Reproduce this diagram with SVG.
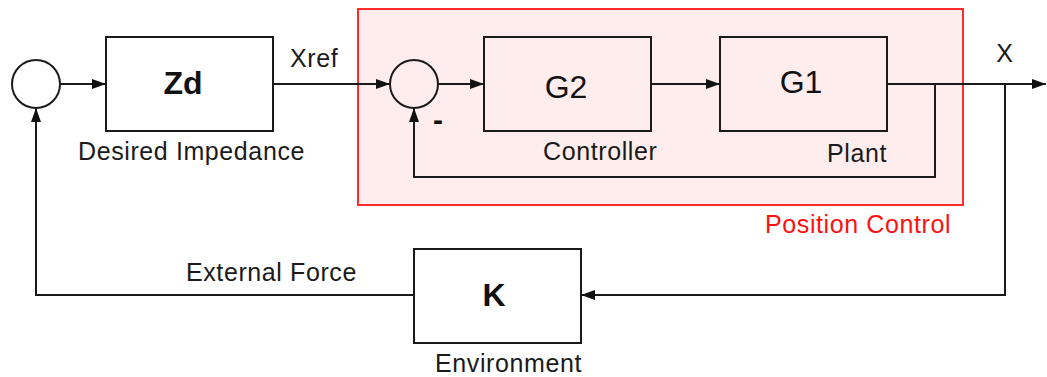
<svg xmlns="http://www.w3.org/2000/svg" width="1047" height="377" viewBox="0 0 1047 377">
<style>
.ln{fill:none;stroke:#1a1a1a;stroke-width:2}
.box{fill:none;stroke:#1a1a1a;stroke-width:2}
.sum{fill:none;stroke:#1a1a1a;stroke-width:2}
.lbl{font-family:"Liberation Sans",Arial,sans-serif;font-size:25px;letter-spacing:0.6px;fill:#1a1a1a}
.big{font-family:"Liberation Sans",Arial,sans-serif;font-size:32px;fill:#111;text-anchor:middle}
.bold{font-weight:bold}
</style>
<defs>
<marker id="arr" markerUnits="userSpaceOnUse" markerWidth="16" markerHeight="12" refX="15" refY="6" orient="auto">
<path d="M1,1 L15,6 L1,11 Z" fill="#111"/>
</marker>
</defs>
<rect width="1047" height="377" fill="#fff"/>
<g id="position-control">
<rect x="358" y="9" width="605" height="196" fill="#FFEDED" stroke="#FF2A2A" stroke-width="2"/>
<text class="lbl" x="765" y="233" style="fill:#FF1010">Position Control</text>
</g>
<g id="sum1"><circle class="sum" cx="36" cy="84" r="24"/></g>
<g id="zd">
<rect class="box" x="106" y="37" width="167" height="94" fill="#fff"/>
<text class="big bold" x="183" y="94">Zd</text>
<text class="lbl" x="78" y="160">Desired Impedance</text>
</g>
<g id="sum2">
<circle class="sum" cx="414" cy="84" r="24"/>
<text class="bold" x="433" y="130" style="font-family:'Liberation Sans',Arial,sans-serif;font-size:30px;fill:#111">-</text>
</g>
<g id="g2">
<rect class="box" x="484" y="37" width="167" height="94"/>
<text class="big" x="566" y="98">G2</text>
<text class="lbl" x="543" y="160">Controller</text>
</g>
<g id="g1">
<rect class="box" x="720" y="37" width="167" height="94"/>
<text class="big" x="801" y="93">G1</text>
<text class="lbl" x="827" y="162">Plant</text>
</g>
<g id="k">
<rect class="box" x="414" y="249" width="167" height="94"/>
<text class="big bold" x="494" y="306">K</text>
<text class="lbl" x="435" y="372">Environment</text>
</g>
<g id="connectors">
<line class="ln" x1="60" y1="84" x2="106" y2="84" marker-end="url(#arr)"/>
<line class="ln" x1="273" y1="84" x2="390" y2="84" marker-end="url(#arr)"/>
<line class="ln" x1="438" y1="84" x2="484" y2="84" marker-end="url(#arr)"/>
<line class="ln" x1="651" y1="84" x2="720" y2="84" marker-end="url(#arr)"/>
<line class="ln" x1="887" y1="84" x2="1046" y2="84" marker-end="url(#arr)"/>
<polyline class="ln" points="935,84 935,177 414,177 414,108" marker-end="url(#arr)"/>
<polyline class="ln" points="1005,84 1005,295 581,295" marker-end="url(#arr)"/>
<polyline class="ln" points="414,295 36,295 36,108" marker-end="url(#arr)"/>
<text class="lbl" x="290" y="67">Xref</text>
<text class="lbl" x="1005" y="62" text-anchor="middle">X</text>
<text class="lbl" x="186" y="281">External Force</text>
</g>
</svg>
